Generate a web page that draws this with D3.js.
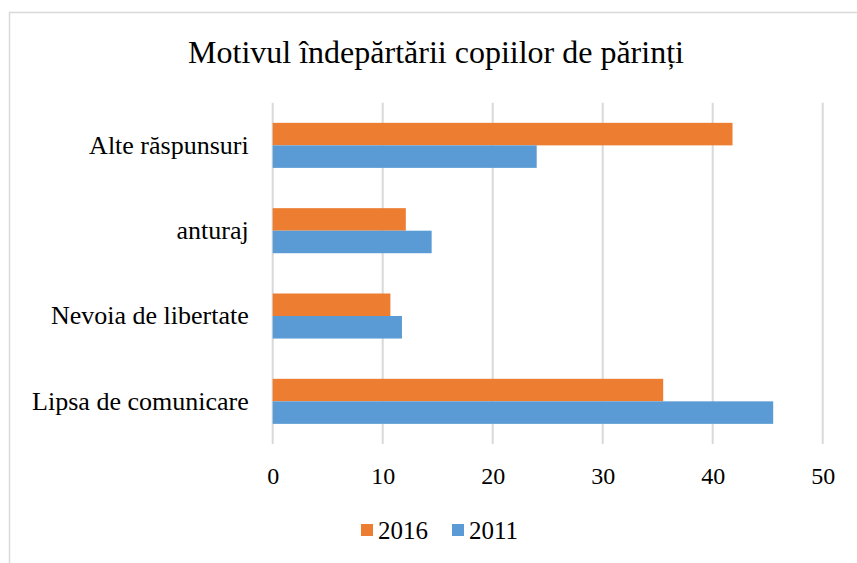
<!DOCTYPE html>
<html>
<head>
<meta charset="utf-8">
<script src="https://cdn.jsdelivr.net/npm/d3@7"></script>
<style>
  html, body { margin: 0; padding: 0; background: #fff; overflow: hidden; }
  svg { display: block; }
</style>
</head>
<body>
<div id="chart"></div>
<script>
// chart data
const title = 'Motivul îndepărtării copiilor de părinți';
const categories = ['Alte răspunsuri', 'anturaj', 'Nevoia de libertate', 'Lipsa de comunicare'];
const seriesNames = ['2016', '2011'];
const values2016 = [41.8, 12.1, 10.7, 35.5];
const values2011 = [24.0, 14.45, 11.75, 45.5];
const xTicks = [0, 10, 20, 30, 40, 50];

(function(){
  const width = 857, height = 563;
  const COLORS = {'2016': '#ED7D31', '2011': '#5B9BD5'};
  const FONT = '"Liberation Serif", "Times New Roman", serif';

  const svg = d3.select('#chart').append('svg')
    .attr('width', width)
    .attr('height', height);

  // outer chart border (runs off the right/bottom edge like the picture)
  svg.append('rect')
    .attr('x', 9.5).attr('y', 12.5)
    .attr('width', 900).attr('height', 600)
    .attr('fill', '#fff')
    .attr('stroke', '#d9d9d9')
    .attr('stroke-width', 1.5);

  const plot = {left: 272.7, right: 822.7, top: 102.7, bottom: 444};

  const x = d3.scaleLinear().domain([0, 50]).range([plot.left, plot.right]);
  const y = d3.scaleBand().domain(categories).range([plot.top, plot.bottom]).paddingInner(0.472).paddingOuter(0.236);
  const ySub = d3.scaleBand().domain(seriesNames).range([0, y.bandwidth()]);

  svg.append('text')
    .attr('x', 436).attr('y', 63)
    .attr('text-anchor', 'middle')
    .style('font-family', FONT)
    .style('font-size', '32px')
    .attr('fill', '#000')
    .text(title);

  // gridlines
  svg.append('g').selectAll('line')
    .data(xTicks)
    .join('line')
    .attr('x1', d => x(d)).attr('x2', d => x(d))
    .attr('y1', plot.top).attr('y2', plot.bottom)
    .attr('stroke', '#d9d9d9')
    .attr('stroke-width', 2);

  // bars
  const rows = categories.map((c, i) => ({cat: c, vals: {'2016': values2016[i], '2011': values2011[i]}}));
  const groups = svg.append('g').selectAll('g')
    .data(rows)
    .join('g')
    .attr('transform', d => `translate(0,${y(d.cat)})`);
  groups.selectAll('rect')
    .data(d => seriesNames.map(s => ({s, v: d.vals[s]})))
    .join('rect')
    .attr('x', x(0))
    .attr('y', d => ySub(d.s))
    .attr('width', d => x(d.v) - x(0))
    .attr('height', ySub.bandwidth())
    .attr('fill', d => COLORS[d.s]);

  // x tick labels
  const xAxis = svg.append('g')
    .attr('transform', `translate(0,${plot.bottom})`)
    .call(d3.axisBottom(x).tickValues(xTicks).tickSize(0).tickPadding(23).tickFormat(d3.format('d')));
  xAxis.select('.domain').remove();
  xAxis.selectAll('text')
    .style('font-family', FONT)
    .style('font-size', '24px')
    .attr('fill', '#000');

  // category labels
  const yAxis = svg.append('g')
    .attr('transform', `translate(${plot.left},0)`)
    .call(d3.axisLeft(y).tickSize(0).tickPadding(24));
  yAxis.select('.domain').remove();
  yAxis.selectAll('text')
    .style('font-family', FONT)
    .style('font-size', '26px')
    .attr('fill', '#000');

  // legend
  const legend = svg.append('g').attr('transform', 'translate(361,530)');
  const legendX = [0, 91];
  seriesNames.forEach((s, i) => {
    const g = legend.append('g').attr('transform', `translate(${legendX[i]},0)`);
    g.append('rect').attr('x', 0).attr('y', -6).attr('width', 12).attr('height', 12).attr('fill', COLORS[s]);
    g.append('text').attr('x', 17).attr('y', 0).attr('dy', '0.35em')
      .style('font-family', FONT).style('font-size', '25px').attr('fill', '#000')
      .text(s);
  });
})();
</script>
</body>
</html>
